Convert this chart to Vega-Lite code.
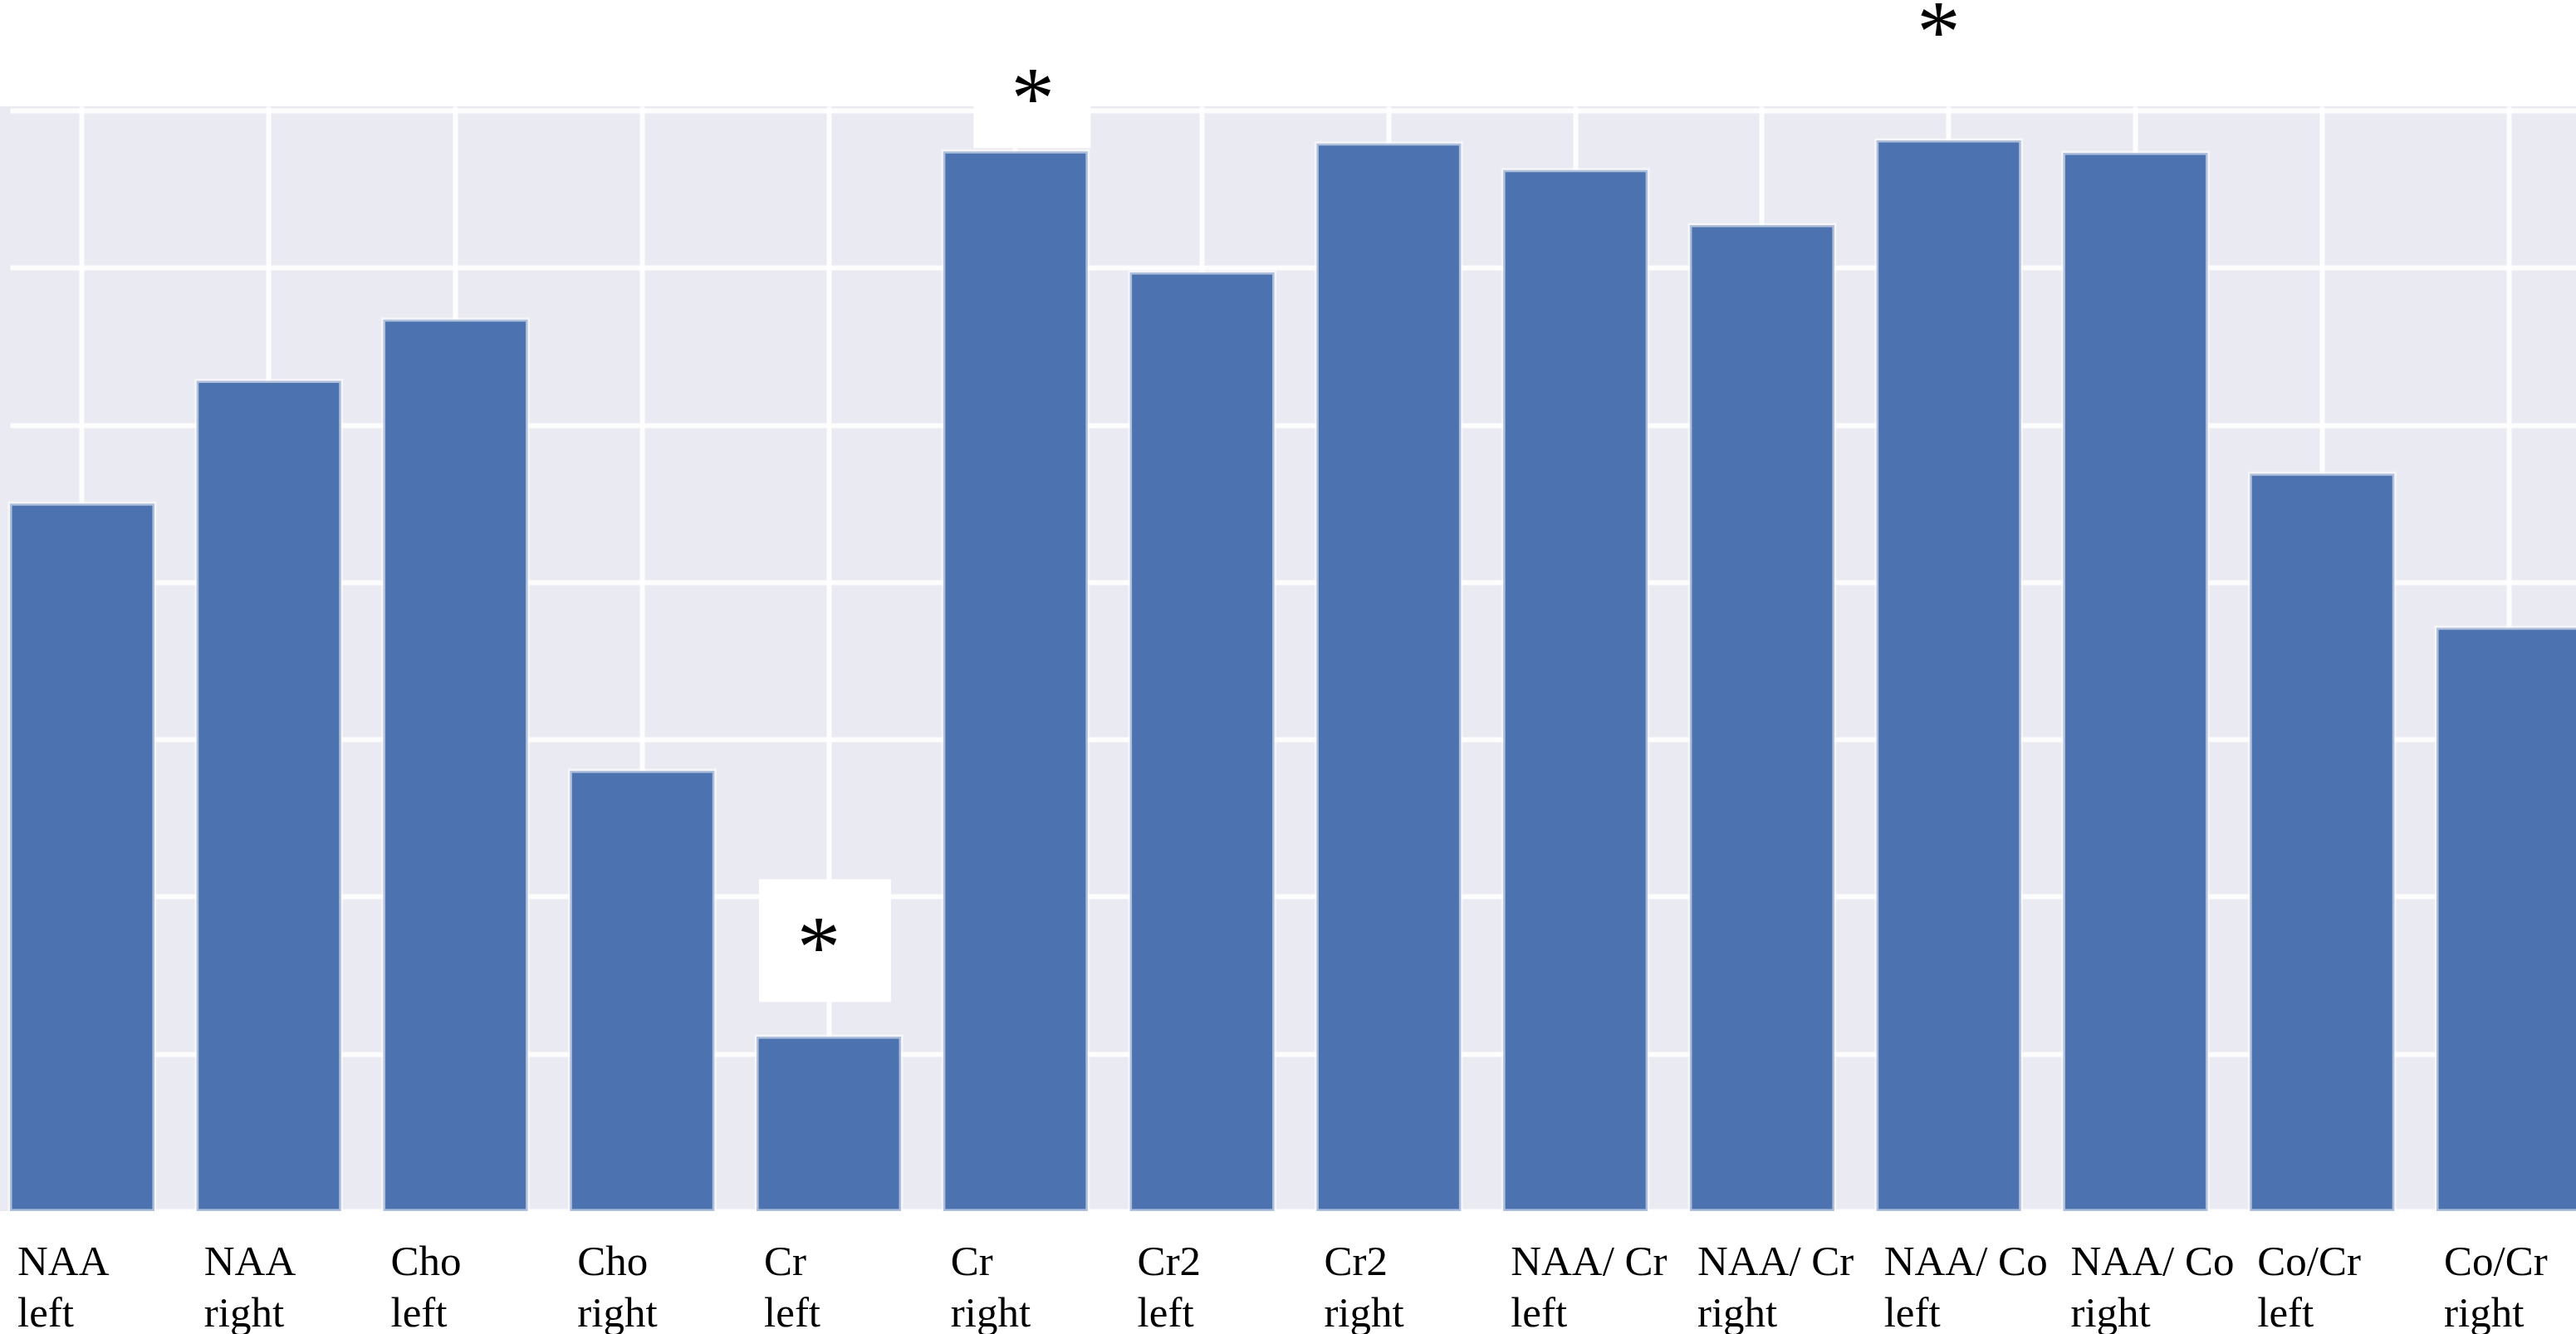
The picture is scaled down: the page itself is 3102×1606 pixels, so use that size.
{
  "$schema": "https://vega.github.io/schema/vega-lite/v6.json",
  "width": 3102,
  "height": 1330,
  "autosize": {"type": "none"},
  "padding": {"top": 128, "left": 0, "right": 0, "bottom": 148},
  "background": "white",
  "config": {"view": {"fill": "#EAEAF2", "stroke": null}},
  "datasets": {
    "bars": [
      {"measure": "NAA left", "value": 4.50},
      {"measure": "NAA right", "value": 5.28},
      {"measure": "Cho left", "value": 5.67},
      {"measure": "Cho right", "value": 2.80},
      {"measure": "Cr left", "value": 1.11},
      {"measure": "Cr right", "value": 6.74},
      {"measure": "Cr2 left", "value": 5.97},
      {"measure": "Cr2 right", "value": 6.79},
      {"measure": "NAA/ Cr left", "value": 6.62},
      {"measure": "NAA/ Cr right", "value": 6.27},
      {"measure": "NAA/ Co left", "value": 6.81},
      {"measure": "NAA/ Co right", "value": 6.73},
      {"measure": "Co/Cr left", "value": 4.69},
      {"measure": "Co/Cr right", "value": 3.71}
    ],
    "stars": [
      {"measure": "Cr left", "star": 1.49, "box_low": 1.33, "box_high": 2.11},
      {"measure": "Cr right", "star": 6.89, "box_low": 6.76, "box_high": 7.6},
      {"measure": "NAA/ Co left", "star": 7.31}
    ]
  },
  "layer": [
    {
      "data": {"name": "bars"},
      "mark": {"type": "bar", "fill": "#4C72B0", "stroke": "white", "strokeWidth": 5, "strokeOpacity": 0.55},
      "encoding": {
        "x": {
          "field": "measure",
          "type": "nominal",
          "sort": null,
          "scale": {
            "domain": ["NAA left", "NAA right", "Cho left", "Cho right", "Cr left", "Cr right", "Cr2 left", "Cr2 right", "NAA/ Cr left", "NAA/ Cr right", "NAA/ Co left", "NAA/ Co right", "Co/Cr left", "Co/Cr right"],
            "range": [12, 3108],
            "paddingInner": 0.226,
            "paddingOuter": 0
          },
          "axis": {
            "title": null,
            "labelAngle": 0,
            "labelAlign": "left",
            "labelOffset": -78,
            "labelExpr": "[slice(datum.value, 0, lastindexof(datum.value, ' ')), slice(datum.value, lastindexof(datum.value, ' ') + 1)]",
            "labelFont": "Liberation Serif",
            "labelFontSize": 51,
            "labelLineHeight": 62,
            "labelPadding": 36,
            "labelColor": "black",
            "labelLimit": 0,
            "labelOverlap": false,
            "labelFlush": false,
            "labelBound": false,
            "ticks": false,
            "domain": false,
            "grid": true,
            "bandPosition": 0.5,
            "gridColor": "white",
            "gridOpacity": 0.9,
            "gridWidth": 6
          }
        },
        "y": {
          "field": "value",
          "type": "quantitative",
          "scale": {"domain": [0, 7.026], "nice": false, "zero": true},
          "axis": {
            "title": null,
            "values": [0, 1, 2, 3, 4, 5, 6, 7],
            "labels": false,
            "ticks": false,
            "domain": false,
            "grid": true,
            "gridColor": "white",
            "gridOpacity": 0.9,
            "gridWidth": 6
          }
        }
      }
    },
    {
      "data": {"name": "stars"},
      "transform": [{"filter": "datum.measure == 'Cr left'"}],
      "mark": {"type": "rect", "fill": "white"},
      "encoding": {
        "x": {"field": "measure", "type": "nominal", "bandPosition": 0.017},
        "x2": {"field": "measure", "bandPosition": 0.93},
        "y": {"field": "box_low", "type": "quantitative"},
        "y2": {"field": "box_high"}
      }
    },
    {
      "data": {"name": "stars"},
      "transform": [{"filter": "datum.measure == 'Cr right'"}],
      "mark": {"type": "rect", "fill": "white"},
      "encoding": {
        "x": {"field": "measure", "type": "nominal", "bandPosition": 0.21},
        "x2": {"field": "measure", "bandPosition": 1.02},
        "y": {"field": "box_low", "type": "quantitative"},
        "y2": {"field": "box_high"}
      }
    },
    {
      "data": {"name": "stars"},
      "transform": [{"filter": "datum.measure == 'Cr left'"}],
      "mark": {"type": "text", "font": "Liberation Serif", "fontSize": 105, "color": "black", "baseline": "alphabetic", "align": "center"},
      "encoding": {
        "x": {"field": "measure", "type": "nominal", "bandPosition": 0.43},
        "y": {"field": "star", "type": "quantitative"},
        "text": {"value": "*"}
      }
    },
    {
      "data": {"name": "stars"},
      "transform": [{"filter": "datum.measure == 'Cr right'"}],
      "mark": {"type": "text", "font": "Liberation Serif", "fontSize": 105, "color": "black", "baseline": "alphabetic", "align": "center"},
      "encoding": {
        "x": {"field": "measure", "type": "nominal", "bandPosition": 0.62},
        "y": {"field": "star", "type": "quantitative"},
        "text": {"value": "*"}
      }
    },
    {
      "data": {"name": "stars"},
      "transform": [{"filter": "datum.measure == 'NAA/ Co left'"}],
      "mark": {"type": "text", "font": "Liberation Serif", "fontSize": 105, "color": "black", "baseline": "alphabetic", "align": "center"},
      "encoding": {
        "x": {"field": "measure", "type": "nominal", "bandPosition": 0.43},
        "y": {"field": "star", "type": "quantitative"},
        "text": {"value": "*"}
      }
    }
  ]
}
